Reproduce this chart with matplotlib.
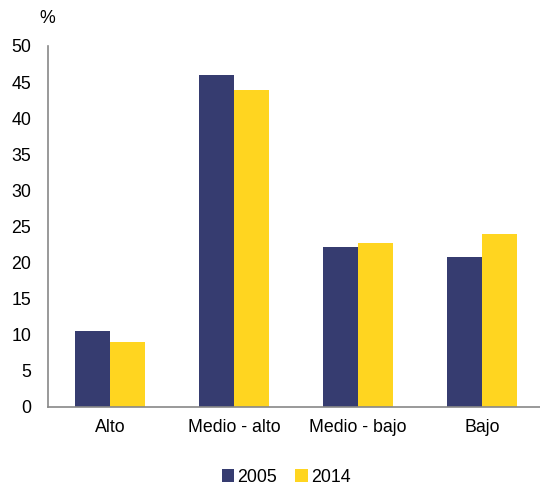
import matplotlib.pyplot as plt
import numpy as np

plt.rcParams["font.family"] = ["Liberation Sans", "DejaVu Sans"]

categories = ["Alto", "Medio - alto", "Medio - bajo", "Bajo"]
years = ["2005", "2014"]
share_2005 = [10.5, 46.0, 22.2, 20.8]
share_2014 = [9.0, 43.9, 22.7, 23.9]

colors = ["#363c70", "#ffd520"]
axis_gray = "#888888"

fig = plt.figure(figsize=(5.4, 4.86), dpi=100)
ax = fig.add_axes([0.0889, 0.1626, 0.9185, 0.7428])

x = np.arange(len(categories))
width = 0.286
ax.bar(x - width / 2, share_2005, width, color=colors[0], label=years[0])
ax.bar(x + width / 2, share_2014, width, color=colors[1], label=years[1])

ax.set_xlim(-0.5, len(categories) - 0.5)
ax.set_ylim(0, 50)
ax.set_yticks(range(0, 51, 5))
ax.set_xticks(x)
ax.set_xticklabels(categories)
ax.tick_params(axis="both", length=0, labelsize=12.8, colors="black")
ax.tick_params(axis="x", pad=9)
ax.tick_params(axis="y", pad=12)

for side in ("top", "right"):
    ax.spines[side].set_visible(False)
for side in ("left", "bottom"):
    ax.spines[side].set_color(axis_gray)
    ax.spines[side].set_linewidth(1.2)

fig.text(0.087, 0.962, "%", ha="center", va="center", fontsize=12.8)

fig.legend(loc="center", bbox_to_anchor=(0.53, 0.018), ncol=2, frameon=False,
           fontsize=12.8, handlelength=0.7, handleheight=0.7, handletextpad=0.2,
           columnspacing=1.0)

fig.savefig("out.png", dpi=100)
